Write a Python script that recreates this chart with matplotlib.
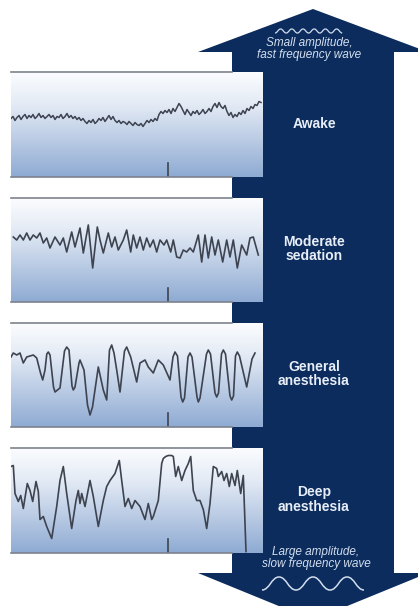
import matplotlib
matplotlib.use('Agg')
import matplotlib.pyplot as plt
from matplotlib.patches import Polygon, PathPatch
from matplotlib.path import Path
from matplotlib.colors import LinearSegmentedColormap

# EEG strips: t = position along the strip (px), v = amplitude (px, up positive)
awake_t = list(range(0, 252, 2))
awake_v = [6, 8, 4, 7, 9, 5, 8, 10, 6, 9, 7, 10, 6, 8, 11, 7, 9, 6, 8, 10,
           7, 9, 5, 8, 7, 10, 6, 8, 11, 7, 9, 6, 8, 5, 7, 4, 6, 3, 1, 4,
           2, 5, 1, 3, 6, 4, 7, 3, 6, 9, 5, 8, 4, 2, 4, 1, 3, 2, 0, 3,
           1, -1, 2, 0, -1, 1, -2, 1, 4, 2, 5, 3, 6, 4, 10, 13, 11, 14, 12, 15,
           11, 16, 13, 17, 21, 18, 14, 10, 15, 12, 9, 13, 11, 14, 10, 12, 15, 11, 13, 16,
           13, 18, 21, 17, 22, 18, 16, 19, 13, 9, 12, 7, 10, 8, 12, 10, 14, 11, 16, 14,
           18, 16, 20, 19, 23, 22]

moderate_t = [2.3, 5.7, 9, 12.3, 15.7, 19, 22.3, 25.7, 29, 32.3, 35.7, 39, 44, 49,
              52.3, 55.7, 60.7, 64, 69, 72.3, 77.3, 81.7, 86.3, 89, 92.3, 97.3, 100.7,
              104, 107.3, 112.3, 115.7, 119.7, 122.3, 125.7, 129, 132.3, 135.7, 139,
              142.3, 145.7, 149, 153, 155.7, 159.7, 162.3, 165.7, 169, 172.3, 175.7,
              179, 182.3, 187.3, 190.7, 194, 197.3, 200.7, 204, 207.3, 211.7, 215.7,
              219, 222.3, 226.3, 230.7, 235.7, 239, 242.3, 247.3]
moderate_v = [13, 10, 15, 10, 17, 10, 15, 12, 17, 7, 12, 2, 13, 5,
              12, -2, 18, 3, 22, -3, 25, -18, 23, 10, -3, 17, 3,
              13, 0, 10, 20, -2, 15, 2, 13, 0, 12, 3,
              10, -2, 10, 5, 10, -2, 10, -7, -8, 0, -2,
              2, -2, 15, -12, 15, -8, 13, -5, 10, -12, 10,
              -7, 10, -18, 5, -5, 12, 13, -5]

general_t = [0, 2.3, 5.7, 9, 12.3, 15.7, 22.3, 25.7, 29.5, 31.7, 34, 35.8, 37.3, 39,
             42.5, 44, 49, 53.5, 55.7, 58, 61, 62.3, 64, 68, 69, 73, 76.5, 79, 81.5,
             87.3, 92.3, 95.7, 98.5, 100.7, 103, 105.7, 109, 113.5, 115.7, 119.7,
             125.7, 129, 134, 137.3, 142.3, 147.3, 152.3, 159, 162, 164, 166.5, 170,
             171.7, 173.5, 177, 179, 181, 186, 187.3, 189, 195.5, 197.3, 199.5, 204,
             205.7, 207.5, 210.5, 212.3, 214.5, 219, 220.7, 222.5, 224.5, 226.3,
             228.5, 235.7, 241, 244]
general_v = [18, 22, 20, 22, 12, 18, 20, 17, 2, -5, 5, 21, 23, 20,
             -12, -17, -13, 24, 28, 25, -11, -15, -12, 12, 15, 5, -30, -40, -32,
             8, -15, -25, 25, 30, 22, 5, -17, 24, 28, 18,
             -7, 12, 15, 8, 2, 15, 10, -5, 18, 23, 19, -22,
             -27, -23, 18, 22, 18, -22, -27, -23, 21, 25, 21, -18,
             -22, -18, 21, 25, 21, -21, -25, -21, 19, 23,
             19, -12, 16, 22]

deep_t = [0, 2.3, 4, 7.3, 9.7, 12.3, 16.3, 19, 21.7, 25, 27.3, 29, 32.3, 35.7,
          40.7, 45.7, 49, 52.3, 55.7, 60.7, 65, 67.3, 69, 70.7, 74, 79, 82.3, 87.3,
          92.3, 95.7, 99, 104, 108.3, 110.7, 114, 117.3, 120.7, 124, 129, 134,
          137.3, 140.7, 142.3, 147.3, 150.7, 152.3, 154.7, 157.3, 160.7, 162.3,
          164.7, 167.3, 170.7, 174, 177.3, 179.7, 182.3, 185.7, 189, 192.3, 195.7,
          199, 202.3, 205.7, 207.3, 210.7, 213, 215.7, 218.3, 220.7, 224, 226.3,
          229.7, 232.3, 235]
deep_v = [34, 35, 7, -1, 5, -8, 17, 10, -1, 19, 9, -19, -16, -26,
          -38, -6, 20, 34, 7, -28, 0, 10, -3, 7, -6, 20, 4, -26,
          0, 14, 20, 27, 40, 20, -6, 2, -8, 0, -6, -19,
          -3, -19, -16, 0, 37, 42, 44, 45, 45, 44,
          24, 34, 20, 30, 37, 44, 10, 0, 0, -9, -28,
          -3, 34, 32, 24, 29, 20, 27, 14, 27, 15, 30,
          7, 25, -51]

traces = [(awake_t, awake_v), (moderate_t, moderate_v),
          (general_t, general_v), (deep_t, deep_v)]
labels = ['Awake', 'Moderate\nsedation', 'General\nanesthesia', 'Deep\nanesthesia']

# layout in pixels of the 418x606 picture
W, H = 418, 606
panel_left, panel_right, shaft_left = 11, 263, 232
panel_top = [72, 198, 323, 448]
panel_bot = [177, 302, 427, 553]
tick_x = 157

navy = '#0b2c5c'
trace_col = '#3e4350'
label_col = '#e8eef8'
note_col = '#d3deef'

fig = plt.figure(figsize=(W / 100, H / 100), dpi=100)
bg = fig.add_axes([0, 0, 1, 1])
bg.set_xlim(0, W)
bg.set_ylim(H, 0)
bg.axis('off')

# big two-headed arrow
arrow = [(313, 9), (428, 52), (394, 52), (394, 573), (428, 573), (313, 620),
         (198, 573), (232, 573), (232, 52), (198, 52)]
bg.add_patch(Polygon(arrow, closed=True, fc=navy, ec='none'))


def wave_path(xs, ys):
    verts = [(xs[0], ys[0])]
    codes = [Path.MOVETO]
    for i in range(1, len(xs)):
        dx = (xs[i] - xs[i - 1]) * 0.45
        verts += [(xs[i - 1] + dx, ys[i - 1]), (xs[i] - dx, ys[i]), (xs[i], ys[i])]
        codes += [Path.CURVE4] * 3
    return Path(verts, codes)


# little wave icons on the arrow heads
fast_x = [275, 280.6, 286.2, 291.8, 297.4, 303, 308.6, 314.2, 319.8, 325.4, 331, 336.6, 342.2]
fast_y = [33, 29, 33, 29, 33, 29, 33, 29, 33, 29, 33, 29, 33]
slow_x = [262, 279, 296, 313, 330, 347, 364]
slow_y = [590, 577, 590, 577, 590, 577, 590]
bg.add_patch(PathPatch(wave_path(fast_x, fast_y), fc='none', ec=note_col, lw=0.9))
bg.add_patch(PathPatch(wave_path(slow_x, slow_y), fc='none', ec=note_col, lw=1.1))

bg.text(309, 49, 'Small amplitude,\nfast frequency wave', color=note_col,
        fontsize=8.5, style='italic', family='Liberation Sans', ha='center',
        va='center', linespacing=0.95)
bg.text(316, 558, 'Large amplitude,\nslow frequency wave', color=note_col,
        fontsize=8.5, style='italic', family='Liberation Sans', ha='center',
        va='center', linespacing=0.95)

grad = LinearSegmentedColormap.from_list(
    'strip', [(0, '#fbfcfe'), (0.3, '#e4ebf5'), (1, '#8fabd3')])

for i, (t, v) in enumerate(traces):
    top, bot = panel_top[i], panel_bot[i]
    h = bot - top
    w = panel_right - panel_left
    ax = fig.add_axes([panel_left / W, 1 - bot / H, w / W, h / H])
    ax.imshow([[k] for k in range(100)], cmap=grad, aspect='auto',
              extent=[0, w, -h / 2, h / 2], origin='upper')
    ax.set_xlim(0, w)
    ax.set_ylim(-h / 2, h / 2)
    ax.plot(t, v, color=trace_col, lw=1.1 if i == 0 else 1.2)
    ax.plot([tick_x, tick_x], [-h / 2, -h / 2 + 14], color=trace_col, lw=1.2)
    frac = (shaft_left - panel_left) / w
    for yy in (0, 1):
        ax.plot([0, frac], [yy, yy], transform=ax.transAxes, color='#7d828c',
                lw=1.2, clip_on=False)
    ax.axis('off')

    bg.text(314, (top + bot) / 2 - 1, labels[i], color=label_col, fontsize=10,
            fontweight='bold', family='Liberation Sans', ha='center',
            va='center', linespacing=1.05)

fig.savefig('out.png', dpi=100)
